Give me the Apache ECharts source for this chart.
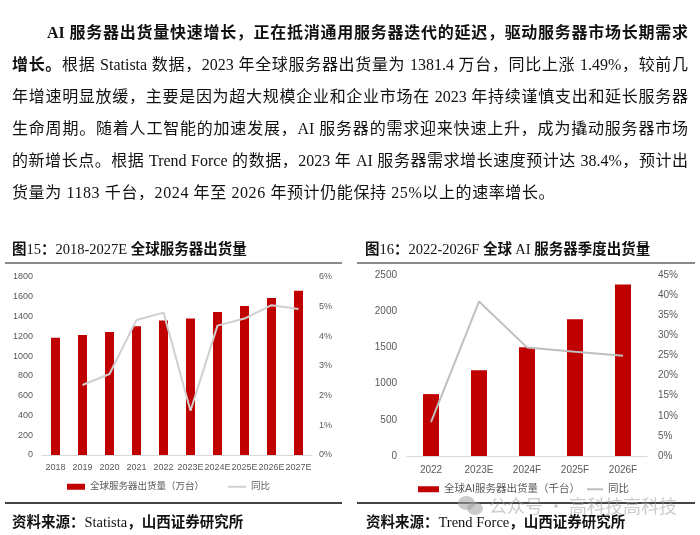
<!DOCTYPE html>
<html>
<head>
<meta charset="utf-8">
<script src="https://cdn.jsdelivr.net/npm/echarts@6/dist/echarts.min.js"></script>
<style>
  html, body { margin: 0; padding: 0; background: #fff; }
  #page { position: relative; width: 700px; height: 535px; overflow: hidden; background: #fff; }
  #chart { position: absolute; left: 0; top: 0; width: 700px; height: 535px; }
  .abs { position: absolute; pointer-events: none; }
  .para { left: 12px; width: 676px; font-size: 16px; line-height: 32px; height: 32px;
          font-family: "Liberation Serif", "Noto Sans CJK SC", serif; color: #111;
          text-align: justify; text-align-last: justify; }
  .pl { font-size: 17px; }
  .b { font-weight: bold; }
  .lt { font-family: "Liberation Serif", serif; font-weight: normal; }
  .cj { font-family: "Noto Sans CJK SC", sans-serif; font-weight: bold; }
  .ttl { font-size: 14.5px; line-height: 20px; color: #111; white-space: nowrap; }
  .rule { height: 2px; background: #8a8a8a; }
  .rule2 { height: 1.5px; background: #444; }
  .wm { font-family: "Noto Sans CJK SC", sans-serif; font-size: 18px; line-height: 24px; color: rgba(160,160,160,0.55); white-space: nowrap; }
  .bub { position: absolute; background: rgba(160,160,160,0.55); border-radius: 50%; }
</style>
</head>
<body>
<div id="page">
  <div id="chart"></div>

  <div class="abs para b" style="left:47px;width:641px;top:16.5px;">AI 服务器出货量快速增长，正在抵消通用服务器迭代的延迟，驱动服务器市场长期需求</div>
  <div class="abs para" style="top:48.5px;"><span class="b">增长。</span>根据 Statista 数据，2023 年全球服务器出货量为 1381.4 万台，同比上涨 1.49%，较前几</div>
  <div class="abs para" style="top:80.5px;">年增速明显放缓，主要是因为超大规模企业和企业市场在 2023 年持续谨慎支出和延长服务器</div>
  <div class="abs para" style="top:112.5px;">生命周期。随着人工智能的加速发展，AI 服务器的需求迎来快速上升，成为撬动服务器市场</div>
  <div class="abs para" style="top:144.5px;">的新增长点。根据 Trend Force 的数据，2023 年 AI 服务器需求增长速度预计达 38.4%，预计出</div>
  <div class="abs para" style="top:176.5px;text-align:left;text-align-last:left;letter-spacing:0.6px;">货量为 1183 千台，2024 年至 2026 年预计仍能保持 25%以上的速率增长。</div>

  <div class="abs ttl" style="left:12px;top:238px;"><span class="cj">图</span><span class="lt">15</span><span class="cj">：</span><span class="lt">2018-2027E </span><span class="cj">全球服务器出货量</span></div>
  <div class="abs ttl" style="left:365px;top:238px;"><span class="cj">图</span><span class="lt">16</span><span class="cj">：</span><span class="lt">2022-2026F </span><span class="cj">全球 </span><span class="lt">AI </span><span class="cj">服务器季度出货量</span></div>

  <div class="abs rule" style="left:5px;width:337px;top:262px;"></div>
  <div class="abs rule" style="left:357px;width:338px;top:262px;"></div>
  <div class="abs rule2" style="left:5px;width:337px;top:502px;"></div>
  <div class="abs rule2" style="left:357px;width:338px;top:502px;"></div>

  <div class="abs ttl" style="left:12px;top:511px;"><span class="cj">资料来源：</span><span class="lt">Statista</span><span class="cj">，山西证券研究所</span></div>
  <div class="abs ttl" style="left:366px;top:511px;"><span class="cj">资料来源：</span><span class="lt">Trend Force</span><span class="cj">，山西证券研究所</span></div>

  <div class="abs" style="left:458px;top:495px;width:28px;height:22px;">
    <div class="bub" style="left:0;top:1px;width:17px;height:14px;"></div>
    <div class="bub" style="left:9px;top:7px;width:16px;height:13px;"></div>
  </div>
  <div class="abs wm" style="left:489px;top:493px;">公众号 · 高科技高科技</div>
</div>

<script>
// ---- Data ----
const serverYears = ['2018', '2019', '2020', '2021', '2022', '2023E', '2024E', '2025E', '2026E', '2027E'];
const serverShipments = [1186, 1213, 1244, 1301, 1361, 1381.4, 1446, 1507, 1588, 1661];
const serverYoY = [null, 2.36, 2.73, 4.55, 4.8, 1.49, 4.36, 4.6, 5.05, 4.92];

const aiYears = ['2022', '2023E', '2024F', '2025F', '2026F'];
const aiShipments = [855, 1183, 1501, 1890, 2370];
const aiYoY = [8.4, 38.4, 27.0, 25.9, 24.9];

const serverBarName = '全球服务器出货量（万台）';
const aiBarName = '全球AI服务器出货量（千台）';
const yoyName = '同比';
const yoyName2 = '同比 ';

// ---- Chart ----
const chart = echarts.init(document.getElementById('chart'), null, { renderer: 'canvas' });
const labelColor = '#595959';
const font = '"Liberation Sans", "Noto Sans CJK SC", sans-serif';

function xAxisCfg(gridIndex, data, fs, margin) {
  return {
    type: 'category', gridIndex: gridIndex, data: data,
    axisLine: { show: true, lineStyle: { color: '#D9D9D9', width: 1 } },
    axisTick: { show: false },
    axisLabel: { color: labelColor, fontSize: fs, fontFamily: font, interval: 0, margin: margin },
    splitLine: { show: false }
  };
}
function yAxisCfg(gridIndex, pos, min, max, interval, fs, margin, suffix) {
  return {
    type: 'value', gridIndex: gridIndex, position: pos, min: min, max: max, interval: interval,
    axisLine: { show: false }, axisTick: { show: false }, splitLine: { show: false },
    axisLabel: { color: labelColor, fontSize: fs, fontFamily: font, margin: margin,
      formatter: function (v) { return String(v) + suffix; } }
  };
}
function legendCfg(name, left, top, w, h, fs, icon) {
  const item = icon ? { name: name, icon: icon } : { name: name };
  return { data: [item], left: left, top: top, itemWidth: w, itemHeight: h, padding: 0,
    selectedMode: false, textStyle: { color: labelColor, fontSize: fs, fontFamily: font } };
}

const option = {
  animation: false,
  grid: [
    { left: 42, top: 277, width: 270, height: 178 },
    { left: 407, top: 275, width: 240, height: 181 }
  ],
  xAxis: [
    xAxisCfg(0, serverYears, 9, 8),
    xAxisCfg(1, aiYears, 10, 9)
  ],
  yAxis: [
    yAxisCfg(0, 'left', 0, 1800, 200, 9, 9, ''),
    yAxisCfg(0, 'right', 0, 6, 1, 9, 7, '%'),
    yAxisCfg(1, 'left', 0, 2500, 500, 10, 10, ''),
    yAxisCfg(1, 'right', 0, 45, 5, 10, 11, '%')
  ],
  legend: [
    legendCfg(serverBarName, 67, 482, 18, 6, 9.5, 'rect'),
    legendCfg(yoyName, 228, 482, 18, 2, 9.5, 'rect'),
    legendCfg(aiBarName, 418, 484, 21, 6, 10.5, 'rect'),
    legendCfg(yoyName2, 587, 484, 16, 2, 10.5, 'rect')
  ],
  series: [
    { name: serverBarName, type: 'bar', xAxisIndex: 0, yAxisIndex: 0, data: serverShipments,
      barWidth: 9, itemStyle: { color: '#C00000' } },
    { name: yoyName, type: 'line', xAxisIndex: 0, yAxisIndex: 1, data: serverYoY,
      symbol: 'none', lineStyle: { color: '#D0D0D0', width: 2 }, itemStyle: { color: '#D0D0D0' }, z: 5 },
    { name: aiBarName, type: 'bar', xAxisIndex: 1, yAxisIndex: 2, data: aiShipments,
      barWidth: 16, itemStyle: { color: '#C00000' } },
    { name: yoyName2, type: 'line', xAxisIndex: 1, yAxisIndex: 3, data: aiYoY,
      symbol: 'none', lineStyle: { color: '#BFBFBF', width: 2 }, itemStyle: { color: '#BFBFBF' }, z: 5 }
  ]
};
chart.setOption(option);
</script>
</body>
</html>
